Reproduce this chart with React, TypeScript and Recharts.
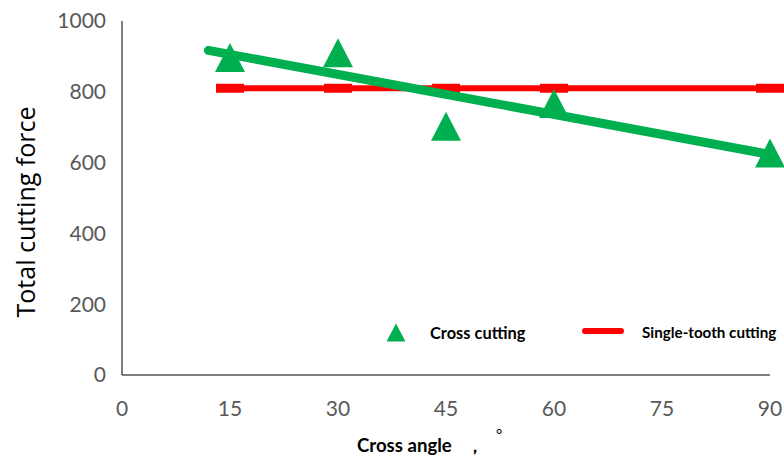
import React from 'react';
import { ScatterChart, Scatter, XAxis, YAxis } from 'recharts';

const crossAngles = [15, 30, 45, 60, 90];
const crossCuttingForce = [897, 910, 703, 767, 627];
const singleToothForce = [810, 810, 810, 810, 810];
const trendAngles = [12, 90];
const trendForce = [917, 623];
const xTicks = [0, 15, 30, 45, 60, 75, 90];
const yTicks = [0, 200, 400, 600, 800, 1000];

const GREEN = '#00B050';
const RED = '#FF0000';
const FONT = 'Lato, "Open Sans", sans-serif';
const LABEL_FONT = '"Open Sans", Lato, sans-serif';

const crossData = crossAngles.map((x, i) => ({ x, y: crossCuttingForce[i] }));
const singleData = crossAngles.map((x, i) => ({ x, y: singleToothForce[i] }));
const trendData = trendAngles.map((x, i) => ({ x, y: trendForce[i] }));

const Triangle = (props: any) => {
  const { cx, cy } = props;
  if (cx == null || cy == null) return null;
  const w = 30;
  const h = 29;
  return (
    <polygon
      points={`${cx - w / 2},${cy + h / 2} ${cx + w / 2},${cy + h / 2} ${cx},${cy - h / 2}`}
      fill={GREEN}
    />
  );
};

const Dash = (props: any) => {
  const { cx, cy } = props;
  if (cx == null || cy == null) return null;
  return <rect x={cx - 14} y={cy - 4.5} width={28} height={9} fill={RED} />;
};

const LegendOverlay = () => (
  <div style={{ position: 'absolute', left: 0, top: 0, width: 784, height: 457, fontFamily: FONT, pointerEvents: 'none' }}>
    <svg style={{ position: 'absolute', left: 386, top: 323 }} width={20} height={19}>
      <polygon points="0.5,18.5 19.5,18.5 10,0.5" fill={GREEN} />
    </svg>
    <div style={{ position: 'absolute', left: 430, top: 323, fontSize: 16.4, fontWeight: 700, color: '#000', whiteSpace: 'nowrap' }}>
      Cross cutting
    </div>
    <svg style={{ position: 'absolute', left: 582, top: 327 }} width={42} height={8}>
      <line x1={3} y1={4} x2={39} y2={4} stroke={RED} strokeWidth={6} strokeLinecap="round" />
    </svg>
    <div style={{ position: 'absolute', left: 642, top: 323, fontSize: 15.2, fontWeight: 700, color: '#000', whiteSpace: 'nowrap' }}>
      Single-tooth cutting
    </div>
  </div>
);

const XLabel = (props: any) => {
  const { viewBox } = props;
  const y = viewBox.y + 77;
  return (
    <g fontFamily={FONT} fill="#000">
      <text x={357} y={y} fontSize={18.6} fontWeight={700}>Cross angle</text>
      <text x={467} y={y} fontSize={16} fontWeight={700}>，</text>
      <text x={496} y={y - 12} fontSize={15}>°</text>
    </g>
  );
};

const YLabel = (props: any) => {
  const { viewBox } = props;
  const x = viewBox.x + 15;
  const y = viewBox.y + viewBox.height / 2 + 14;
  return (
    <text
      x={x}
      y={y}
      transform={`rotate(-90, ${x}, ${y})`}
      textAnchor="middle"
      dominantBaseline="central"
      fontFamily={LABEL_FONT}
      fontSize={25}
      fill="#000"
    >
      Total cutting force
    </text>
  );
};

export default function App() {
  return (
    <div style={{ position: 'absolute', left: 0, top: 0, width: 784, height: 457, background: '#fff' }}>
      <ScatterChart width={784} height={457} margin={{ top: 21, right: 14, bottom: 0, left: 10 }}>
        <XAxis
          type="number"
          dataKey="x"
          domain={[0, 90]}
          ticks={xTicks}
          interval={0}
          height={82}
          tickLine={false}
          tickSize={0}
          tickMargin={26}
          stroke="#000"
          tick={{ fill: '#595959', fontSize: 21, fontFamily: FONT }}
          label={<XLabel />}
        />
        <YAxis
          type="number"
          dataKey="y"
          domain={[0, 1000]}
          ticks={yTicks}
          interval={0}
          width={112}
          tickLine={false}
          tickSize={0}
          tickMargin={16}
          stroke="#000"
          tick={{ fill: '#595959', fontSize: 21, fontFamily: FONT }}
          label={<YLabel />}
        />
        <Scatter
          name="Single-tooth cutting"
          data={singleData}
          line={{ stroke: RED, strokeWidth: 6 }}
          shape={<Dash />}
          isAnimationActive={false}
        />
        <Scatter
          name="Trend"
          data={trendData}
          line={{ stroke: GREEN, strokeWidth: 9, strokeLinecap: 'round' }}
          shape={() => null}
          isAnimationActive={false}
          legendType="none"
        />
        <Scatter
          name="Cross cutting"
          data={crossData}
          shape={<Triangle />}
          isAnimationActive={false}
        />
      </ScatterChart>
      <LegendOverlay />
    </div>
  );
}
